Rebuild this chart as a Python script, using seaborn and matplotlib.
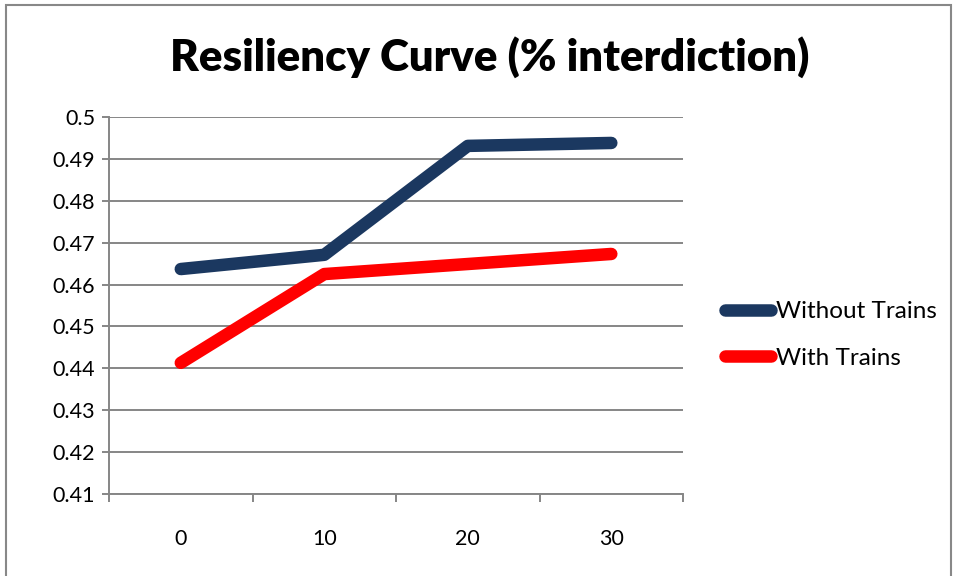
import matplotlib
matplotlib.use("Agg")
import matplotlib.pyplot as plt
from matplotlib.patches import Rectangle
import seaborn as sns
import pandas as pd

# Interdiction levels (%) and resiliency per scenario
categories = ["0", "10", "20", "30"]
without_trains = [0.4637, 0.4671, 0.4931, 0.4938]
with_trains = [0.4413, 0.4625, 0.4649, 0.4673]
series_names = ["Without Trains", "With Trains"]
y_ticks = [0.41, 0.42, 0.43, 0.44, 0.45, 0.46, 0.47, 0.48, 0.49, 0.5]

df = pd.DataFrame({
    "pos": list(range(len(categories))) * 2,
    "value": without_trains + with_trains,
    "series": [series_names[0]] * len(categories) + [series_names[1]] * len(categories),
})

sns.set_theme(style="white")
plt.rcParams["font.family"] = ["Lato", "DejaVu Sans"]
plt.rcParams["text.color"] = "black"
plt.rcParams["xtick.color"] = "black"
plt.rcParams["ytick.color"] = "black"

fig = plt.figure(figsize=(9.54, 5.76), dpi=100)
ax = fig.add_axes([0.1143, 0.1424, 0.6017, 0.6545])

grid_color = "#868686"
palette = {series_names[0]: "#1B3860", series_names[1]: "#FF0000"}

sns.lineplot(data=df, x="pos", y="value", hue="series", hue_order=series_names,
             palette=palette, linewidth=9, sort=False, ax=ax, legend=False,
             solid_capstyle="round", solid_joinstyle="round", zorder=3)

ax.set_xlim(-0.5, len(categories) - 0.5)
ax.set_ylim(0.41, 0.5)
ax.set_yticks(y_ticks)
ax.set_yticklabels([f"{v:g}" for v in y_ticks])
ax.set_xticks(range(len(categories)))
ax.set_xticklabels(categories)
ax.set_xticks([i - 0.5 for i in range(len(categories) + 1)], minor=True)
ax.set_xlabel("")
ax.set_ylabel("")

ax.yaxis.grid(True, color=grid_color, linewidth=1.4)
ax.set_axisbelow(True)
for side in ["top", "right"]:
    ax.spines[side].set_visible(False)
for side in ["left", "bottom"]:
    ax.spines[side].set_color(grid_color)
    ax.spines[side].set_linewidth(1.4)

ax.tick_params(axis="y", which="major", direction="out", length=5, width=1.4,
               color=grid_color, labelsize=15.5, labelcolor="black", pad=5, left=True)
ax.tick_params(axis="x", which="major", length=0, labelsize=15.5, labelcolor="black", pad=25)
ax.tick_params(axis="x", which="minor", direction="out", length=6, width=1.4,
               color=grid_color, bottom=True)

fig.text(0.513, 0.901, "Resiliency Curve (% interdiction)", ha="center", va="center",
         fontsize=31.5, fontweight="heavy", color="black")

handles = ax.get_lines()[:2]
fig.legend(handles, series_names, loc="center left", bbox_to_anchor=(0.760, 0.418),
           frameon=False, fontsize=17.5, handlelength=1.9, handletextpad=0.2,
           labelspacing=1.05, borderaxespad=0, borderpad=0)

fig.patches.append(Rectangle((0.006, -0.02), 0.991, 1.011, transform=fig.transFigure,
                             fill=False, edgecolor="#888888", linewidth=1.5))

fig.savefig("out.png", dpi=100)
